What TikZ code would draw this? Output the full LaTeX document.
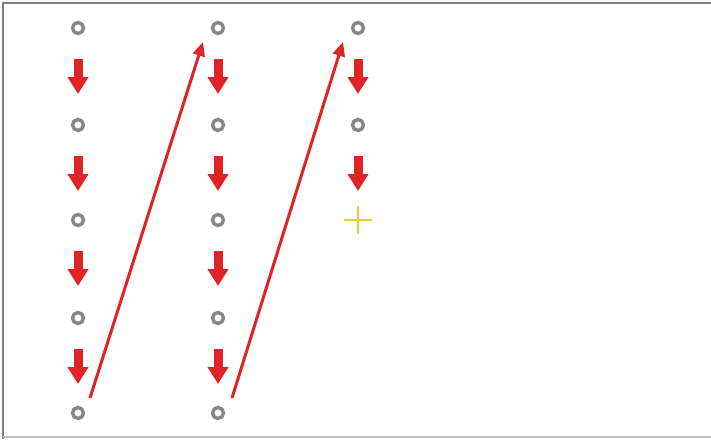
\documentclass[tikz,border=0pt]{standalone}
\usetikzlibrary{arrows.meta}
\definecolor{ared}{RGB}{222,36,36}
\definecolor{cgray}{RGB}{135,135,135}
\definecolor{pyellow}{RGB}{240,200,50}
\begin{document}
\begin{tikzpicture}[x=1pt,y=-1pt,
  dot/.style={circle,draw=cgray,line width=3.4pt,minimum size=11pt,inner sep=0pt},
  stepdown/.style={draw=ared,line width=9pt,-{Triangle[width=20pt,length=17pt]}},
  jump/.style={draw=ared,line width=3pt,-{Triangle[width=12pt,length=14pt]}}]
\useasboundingbox (0,0) rectangle (711,439);
\fill[white] (0,0) rectangle (711,439);
\draw[gray,line width=2pt] (711,3) -- (3,3) -- (3,439);
\draw[black!25,line width=1.5pt] (3,437) -- (711,437);
% dots
\foreach \c/\x in {a/78,b/218}{
  \foreach \r/\y in {1/28,2/125,3/220,4/318,5/413}{
    \node[dot] (\c\r) at (\x,\y) {};
  }
}
\node[dot] (c1) at (358,28) {};
\node[dot] (c2) at (358,125) {};
\coordinate (c3) at (358,220);
\draw[pyellow,line width=1.3pt] (344,220) -- (372,220) (358,206) -- (358,234);
% short arrows
\foreach \c in {a,b}{
  \foreach \i/\j in {1/2,2/3,3/4,4/5}{
    \path (\c\i) ++(0,31) coordinate (s\c\i);
    \path (\c\i) ++(0,66) coordinate (e\c\i);
    \draw[stepdown] (s\c\i) -- (e\c\i);
  }
}
\foreach \i in {1,2}{
  \path (c\i) ++(0,31) coordinate (sc\i);
  \path (c\i) ++(0,66) coordinate (ec\i);
  \draw[stepdown] (sc\i) -- (ec\i);
}
% long arrows
\coordinate (la) at (90,398);
\coordinate (lat) at (203,42);
\coordinate (lb) at (232,398);
\coordinate (lbt) at (343,42);
\draw[jump] (la) -- (lat);
\draw[jump] (lb) -- (lbt);
\end{tikzpicture}
\end{document}
